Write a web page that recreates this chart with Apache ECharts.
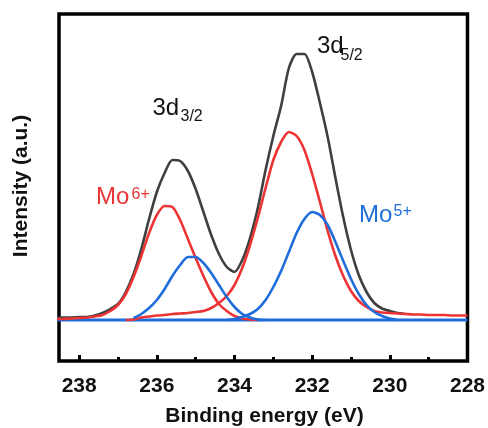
<!DOCTYPE html>
<html>
<head>
<meta charset="utf-8">
<script src="https://cdn.jsdelivr.net/npm/echarts@6/dist/echarts.min.js"></script>
<style>
html,body{margin:0;padding:0;background:#fff;}
#chart{width:488px;height:428px;}
</style>
</head>
<body>
<div id="chart"></div>
<script>
// Binding energy grid (eV)
const energy = [238.6,238.4,238.2,238.0,237.8,237.6,237.4,237.2,237.0,236.8,
  236.6,236.4,236.2,236.0,235.8,235.6,235.4,235.2,235.0,234.8,
  234.6,234.4,234.2,234.0,233.8,233.6,233.4,233.2,233.0,232.8,
  232.6,232.4,232.2,232.0,231.8,231.6,231.4,231.2,231.0,230.8,
  230.6,230.4,230.2,230.0,229.8,229.6,229.4,229.2,229.0,228.8,
  228.6,228.4,228.2,228.0];
// Envelope (black)
const envelope = [2.5,2.5,2.5,3,3,4.5,7,11,16,28,
  46,71,101,128,147,160,159,149,131,108,
  85,66,53,48,60,82,112,150,184,214,
  252,266,266,248,217,183,142,103,70,45,
  28,17,11.5,9,7,6,null,null,null,null,
  null,null,null,null];
// Mo6+ 3d3/2 (red)
const mo6_32 = [1,1,1.5,2,2.5,3.5,5,9,15,26,
  43,64,87,105,114,113,100,81,62,44,
  28,16,9,4,1.5,0.5,0,null,null,null,
  null,null,null,null,null,null,null,null,null,null,
  null,null,null,null,null,null,null,null,null,null,
  null,null,null,null];
// Mo6+ 3d5/2 (red, with background)
const mo6_52 = [null,null,null,null,null,null,null,null,null,0,
  0.5,2.5,3.5,4.5,5,6,6.5,7,8,9,
  12,17,24,35,52,75,102,132,160,178,
  188,184,170,146,118,89,64,44,29,19,
  13,9,7.5,7,6.5,6,5.5,5.5,5,5,
  5,4.5,4.5,4.5];
// Mo5+ 3d3/2 (blue)
const mo5_32 = [null,null,null,null,null,null,null,null,null,null,
  2,6,12,20,31,44,55,63,63,57,
  47,35,23,13,6,2.5,0.5,0,null,null,
  null,null,null,null,null,null,null,null,null,null,
  null,null,null,null,null,null,null,null,null,null,
  null,null,null,null];
// Mo5+ 3d5/2 (blue)
const mo5_52 = [null,null,null,null,null,null,null,null,null,null,
  null,null,null,null,null,null,null,null,null,null,
  null,null,0,1,3,6,11,20,33,49,
  68,87,101,108,105,95,78,59,41,26,
  15,8,4,1.5,0,null,null,null,null,null,
  null,null,null,null];
// Background baseline (blue)
const baseEnergy = [238.6, 228.0];
const baseValues = [0, 0];
// Axis ticks
const majorTicks = [228,230,232,234,236,238];
const minorTicks = [229,231,233,235,237];

function pairs(xs, ys){
  const out = [];
  for (let i = 0; i < xs.length; i++) {
    if (ys[i] !== null && ys[i] !== undefined) out.push([xs[i], ys[i]]);
  }
  return out;
}

const RED = '#ec3434';
const BLUE = '#1f6ddb';
const GRAY = '#3f3f3f';
const FONT = '"Liberation Sans", Arial, sans-serif';

const chart = echarts.init(document.getElementById('chart'), null, {renderer:'canvas'});
const xBase = {
  type: 'value', min: 228, max: 238.52, inverse: true, position: 'bottom',
  splitLine: {show:false}, axisLine: {show:false, onZero:false}
};
chart.setOption({
  animation: false,
  grid: {left:59, right:17, top:14, bottom:67, show:true, borderColor:'#000', borderWidth:3.5, backgroundColor:'transparent'},
  xAxis: [
    Object.assign({}, xBase, {
      interval: 2,
      axisTick: {show:true, inside:true, length:6, lineStyle:{color:'#000', width:3}, customValues: majorTicks},
      axisLabel: {show:true, margin:15, fontSize:21, fontWeight:'bold', color:'#111', fontFamily:FONT,
        customValues: majorTicks,
        formatter: v => (Number.isInteger(v) && majorTicks.indexOf(v) >= 0) ? String(v) : ''}
    }),
    Object.assign({}, xBase, {
      interval: 2,
      axisTick: {show:true, inside:true, length:4, lineStyle:{color:'#000', width:3}, customValues: minorTicks},
      axisLabel: {show:false}
    })
  ],
  yAxis: {type:'value', min:-41, max:306, show:false, splitLine:{show:false}},
  series: [
    {type:'line', data: pairs(baseEnergy, baseValues), symbol:'none', lineStyle:{color:BLUE, width:3}, z:2},
    {type:'line', data: pairs(energy, envelope), symbol:'none', smooth:0.25, lineStyle:{color:GRAY, width:2.6}, z:3},
    {type:'line', data: pairs(energy, mo6_32), symbol:'none', smooth:0.25, lineStyle:{color:RED, width:2.6}, z:4},
    {type:'line', data: pairs(energy, mo6_52), symbol:'none', smooth:0.25, lineStyle:{color:RED, width:2.6}, z:4},
    {type:'line', data: pairs(energy, mo5_32), symbol:'none', smooth:0.25, lineStyle:{color:BLUE, width:2.6}, z:5},
    {type:'line', data: pairs(energy, mo5_52), symbol:'none', smooth:0.25, lineStyle:{color:BLUE, width:2.6}, z:5}
  ],
  graphic: [
    {type:'text', x:152.5, y:108.5, style:{text:'3d', font:'24px '+FONT, fill:'#111', textAlign:'left', textVerticalAlign:'middle'}},
    {type:'text', x:180.5, y:117, style:{text:'3/2', font:'16px '+FONT, fill:'#111', textAlign:'left', textVerticalAlign:'middle'}},
    {type:'text', x:317, y:46.7, style:{text:'3d', font:'24px '+FONT, fill:'#111', textAlign:'left', textVerticalAlign:'middle'}},
    {type:'text', x:340.5, y:55.5, style:{text:'5/2', font:'16px '+FONT, fill:'#111', textAlign:'left', textVerticalAlign:'middle'}},
    {type:'text', x:96, y:197.5, style:{text:'Mo', font:'24px '+FONT, fill:RED, textAlign:'left', textVerticalAlign:'middle'}},
    {type:'text', x:131.5, y:195, style:{text:'6+', font:'16px '+FONT, fill:RED, textAlign:'left', textVerticalAlign:'middle'}},
    {type:'text', x:359, y:215.5, style:{text:'Mo', font:'24px '+FONT, fill:BLUE, textAlign:'left', textVerticalAlign:'middle'}},
    {type:'text', x:393.5, y:212, style:{text:'5+', font:'16px '+FONT, fill:BLUE, textAlign:'left', textVerticalAlign:'middle'}},
    {type:'text', x:264.5, y:416.5, style:{text:'Binding energy (eV)', font:'bold 21px '+FONT, fill:'#111', textAlign:'center', textVerticalAlign:'middle'}},
    {type:'text', x:21.5, y:186, rotation:Math.PI/2, style:{text:'Intensity (a.u.)', font:'bold 21px '+FONT, fill:'#111', textAlign:'center', textVerticalAlign:'middle'}}
  ]
});
</script>
</body>
</html>
